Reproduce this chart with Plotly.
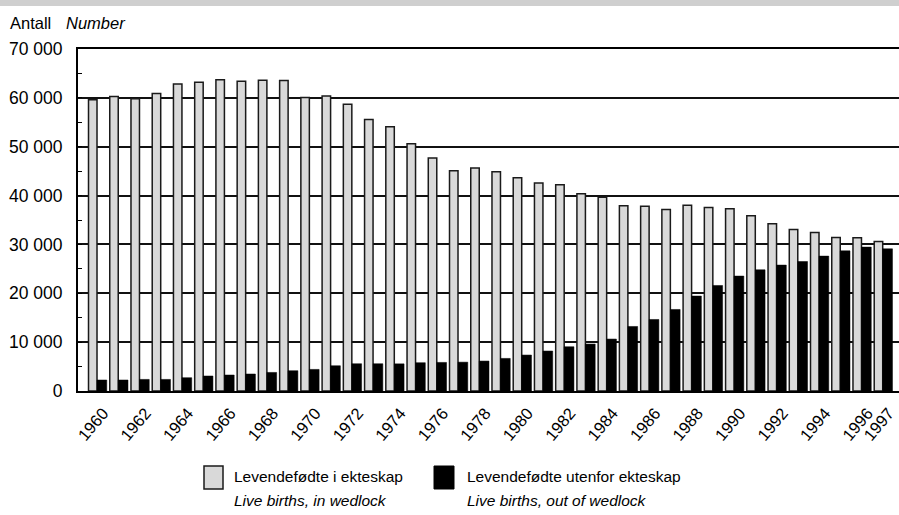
import plotly.graph_objects as go

years = list(range(1960, 1998))
in_wedlock = [59600, 60270, 59800, 60880, 62850, 63180, 63730, 63390, 63590, 63530,
              60060, 60400, 58680, 55570, 54070, 50600, 47670, 45080, 45630, 44880,
              43650, 42570, 42220, 40380, 39640, 37930, 37800, 37140, 38040, 37550,
              37280, 35850, 34210, 33050, 32430, 31410, 31350, 30590]
out_of_wedlock = [2250, 2250, 2370, 2370, 2720, 3070, 3270, 3480, 3800, 4150,
                  4420, 5170, 5580, 5580, 5560, 5790, 5850, 5900, 6130, 6670,
                  7360, 8180, 9060, 9610, 10630, 13210, 14640, 16690, 19430, 21600,
                  23520, 24810, 25770, 26500, 27610, 28690, 29450, 29100]
x_tickvals = list(range(1960, 1997, 2)) + [1997]
x_ticktext = [str(v) for v in x_tickvals]
y_tickvals = list(range(0, 70001, 10000))
y_ticktext = ["0"] + [f"{v // 1000} 000" for v in y_tickvals[1:]]

name_in = "Levendefødte i ekteskap"
name_in_en = "Live births, in wedlock"
name_out = "Levendefødte utenfor ekteskap"
name_out_en = "Live births, out of wedlock"

FONT = "Liberation Sans, Arial, sans-serif"

fig = go.Figure()
fig.add_trace(go.Bar(x=years, y=in_wedlock, name=name_in, width=0.40, offset=-0.40,
                     marker=dict(color="#d9d9d9", line=dict(color="#1a1a1a", width=1.5)),
                     showlegend=False))
fig.add_trace(go.Bar(x=years, y=out_of_wedlock, name=name_out, width=0.46, offset=0.0,
                     marker=dict(color="#000000", line=dict(color="#000000", width=0.5)),
                     showlegend=False))

W, H = 899, 515
L, R, T, B = 78, 0, 49, 124
pw, ph = W - L - R, H - T - B

def px_x(px):
    return (px - L) / pw

def px_y(py):
    return (H - B - py) / ph

# top grey band
fig.add_shape(type="rect", xref="paper", yref="paper", x0=px_x(-2), x1=px_x(W + 5),
              y0=px_y(6), y1=px_y(-2), fillcolor="#cfcfcf", line=dict(width=0), layer="above")

# manual legend
fig.add_shape(type="rect", xref="paper", yref="paper", x0=px_x(204), x1=px_x(223),
              y0=px_y(489), y1=px_y(466), fillcolor="#d9d9d9", line=dict(color="#1a1a1a", width=1.5))
fig.add_shape(type="rect", xref="paper", yref="paper", x0=px_x(434), x1=px_x(454),
              y0=px_y(489), y1=px_y(466), fillcolor="#000000", line=dict(color="#000000", width=1))
for x0, main, sub in [(232, name_in, name_in_en), (465, name_out, name_out_en)]:
    fig.add_annotation(xref="paper", yref="paper", x=px_x(x0), y=px_y(476), xanchor="left",
                       yanchor="middle", text=main, showarrow=False,
                       font=dict(family=FONT, size=15.5, color="#000"))
    fig.add_annotation(xref="paper", yref="paper", x=px_x(x0), y=px_y(500), xanchor="left",
                       yanchor="middle", text=f"<i>{sub}</i>", showarrow=False,
                       font=dict(family=FONT, size=15.5, color="#000"))
# axis unit title
fig.add_annotation(xref="paper", yref="paper", x=px_x(8), y=px_y(23), xanchor="left", yanchor="middle",
                   text="Antall", showarrow=False, font=dict(family=FONT, size=16.5, color="#000"))
fig.add_annotation(xref="paper", yref="paper", x=px_x(64), y=px_y(23), xanchor="left", yanchor="middle",
                   text="<i>Number</i>", showarrow=False, font=dict(family=FONT, size=16.5, color="#000"))

fig.update_layout(
    width=W, height=H,
    margin=dict(l=L, r=R, t=T, b=B, autoexpand=False),
    paper_bgcolor="white", plot_bgcolor="white",
    font=dict(family=FONT, size=17, color="#000"),
    barmode="overlay",
    xaxis=dict(range=[1959.105, 1997.767], tickmode="array", tickvals=x_tickvals, ticktext=x_ticktext,
               tickangle=-50, showgrid=False, zeroline=False, showline=True, linecolor="#000",
               linewidth=2, mirror=True, ticks="", tickfont=dict(size=16.5), automargin=False,
               ticklabelshift=6, ticklabelstandoff=4),
    yaxis=dict(range=[0, 70000], tickmode="array", tickvals=y_tickvals, ticktext=y_ticktext,
               showgrid=True, gridcolor="#111", gridwidth=1.5, zeroline=False, showline=True,
               linecolor="#000", linewidth=2, ticks="inside", ticklen=4, tickcolor="#000",
               ticklabelstandoff=10, tickfont=dict(size=17.5), automargin=False,
               minor=dict(tickmode="array", tickvals=[5000, 15000, 25000, 35000, 45000, 55000, 65000],
                          ticks="inside", ticklen=4, tickcolor="#000", showgrid=False)),
)

fig.write_html("out.html", config={"displayModeBar": False},
               post_script="document.body.style.margin='0px';document.body.style.overflow='hidden';")
